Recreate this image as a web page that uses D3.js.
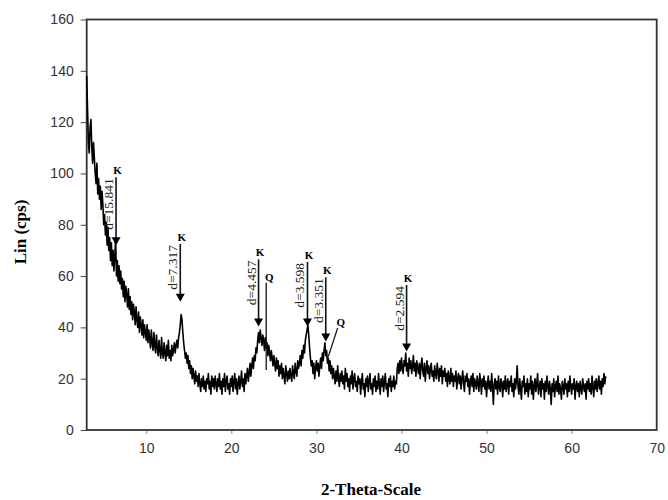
<!DOCTYPE html>
<html>
<head>
<meta charset="utf-8">
<script src="https://cdn.jsdelivr.net/npm/d3@7"></script>
<style>
  body { margin: 0; background: #fff; }
  svg { display: block; }
</style>
</head>
<body>
<div id="chart"></div>
<script>
// diffractogram, read every 0.1 deg 2-theta from 3.0 to 64.0 (one row = 1 deg)
var thetaStart = 3.0, thetaStep = 0.1;
var intensity = [
  138, 125, 112, 108, 118, 121, 110, 104, 112, 106,
  100, 96, 104, 92, 98, 90, 95, 86, 93, 88,
  80, 84, 76, 81, 72, 79, 70, 75, 66, 73,
  64, 70, 62, 68, 74, 60, 66, 58, 64, 57,
  62, 55, 59, 52, 58, 50, 56, 53, 48, 55,
  47, 52, 45, 50, 43, 49, 46, 41, 48, 43,
  40, 46, 38, 44, 41, 37, 43, 36, 41, 38,
  35, 41, 34, 39, 36, 32, 39, 34, 31, 38,
  33, 30, 37, 32, 29, 35, 31, 28, 36, 30,
  28, 34, 30, 27, 33, 29, 35, 28, 31, 27,
  33, 29, 31, 34, 30, 33, 35, 32, 36, 38,
  41, 45, 43, 38, 34, 31, 28, 30, 26, 29,
  24, 27, 22, 25, 20, 24, 21, 18, 23, 19,
  21, 17, 22, 18, 15, 20, 17, 21, 16, 19,
  15, 20, 18, 22, 16, 19, 14, 21, 17, 20,
  16, 21, 18, 15, 20, 17, 22, 16, 19, 14,
  20, 17, 22, 15, 19, 21, 16, 18, 14, 20,
  17, 21, 15, 19, 22, 16, 20, 14, 18, 21,
  16, 19, 23, 17, 20, 15, 22, 18, 21, 24,
  19, 22, 26, 21, 25, 28, 24, 29, 27, 32,
  30, 35, 38, 34, 39, 36, 33, 37, 35, 31,
  36, 32, 34, 29, 33, 30, 27, 31, 28, 25,
  29, 26, 23, 28, 24, 27, 21, 25, 22, 26,
  20, 24, 21, 18, 25, 22, 19, 23, 20, 24,
  21, 19, 25, 22, 20, 26, 23, 21, 27, 24,
  26, 29, 25, 31, 28, 33, 30, 35, 37, 39,
  41, 37, 32, 28, 25, 27, 22, 26, 20, 24,
  27, 23, 26, 21, 25, 28, 24, 30, 27, 31,
  34, 29, 31, 26, 28, 23, 27, 22, 25, 20,
  24, 21, 18, 23, 19, 25, 20, 17, 22, 19,
  23, 18, 21, 16, 24, 19, 22, 17, 20, 15,
  21, 18, 23, 16, 20, 22, 17, 19, 15, 21,
  18, 20, 14, 19, 22, 16, 18, 13, 20, 17,
  21, 15, 19, 22, 16, 18, 14, 20, 17, 21,
  15, 19, 16, 22, 18, 14, 20, 17, 21, 15,
  19, 22, 16, 18, 13, 20, 17, 21, 15, 19,
  17, 21, 16, 19, 18, 24, 26, 22, 27, 23,
  28, 24, 22, 27, 25, 30, 23, 26, 21, 28,
  24, 27, 22, 25, 29, 23, 26, 21, 27, 24,
  22, 26, 20, 25, 28, 23, 21, 26, 19, 24,
  27, 22, 25, 20, 24, 26, 21, 23, 19, 25,
  22, 20, 26, 23, 19, 24, 21, 25, 18, 23,
  21, 24, 19, 22, 17, 23, 20, 18, 24, 19,
  22, 17, 21, 19, 23, 16, 20, 22, 18, 21,
  16, 20, 23, 18, 15, 21, 19, 22, 17, 20,
  14, 19, 21, 17, 22, 15, 20, 18, 16, 21,
  18, 15, 22, 19, 14, 20, 17, 21, 16, 19,
  13, 18, 21, 16, 19, 15, 22, 17, 10, 18,
  20, 16, 19, 14, 21, 17, 15, 20, 18, 13,
  19, 16, 21, 15, 18, 20, 14, 19, 17, 21,
  15, 18, 13, 20, 16, 19, 25, 17, 14, 20,
  16, 12, 19, 17, 21, 14, 18, 15, 20, 13,
  18, 16, 21, 14, 19, 12, 17, 20, 15, 18,
  22, 14, 17, 19, 13, 20, 16, 18, 12, 19,
  15, 21, 17, 14, 19, 16, 10, 18, 15, 20,
  13, 17, 19, 15, 21, 14, 18, 16, 12, 19,
  17, 14, 20, 16, 18, 13, 19, 15, 21, 17,
  14, 18, 16, 20, 12, 17, 19, 15, 18, 13,
  19, 16, 14, 20, 17, 15, 18, 12, 19, 16,
  20, 15, 18, 14, 21, 17, 13, 19, 16, 20,
  15, 18, 21, 16, 19, 14, 20, 17, 22, 18,
  21
];

var xTicks = [10, 20, 30, 40, 50, 60, 70];
var yTicks = [0, 20, 40, 60, 80, 100, 120, 140, 160];

// kaolinite reflections (arrow from top value down to tip value)
var kTheta = [6.45, 14.0, 23.2, 28.95, 31.1, 40.6];
var kTop = [98.5, 72.5, 66.5, 65.5, 59.5, 56.5];
var kTip = [72, 50, 40.3, 40.3, 34.5, 30.6];
var kLabel = ["d=15.841", "d=7.317", "d=4.457", "d=3.598", "d=3.351", "d=2.594"];

// quartz markers (plain lines)
var qThetaTop = [24.1, 32.5];
var qTop = [57.4, 39.8];
var qThetaBot = [24.1, 31.4];
var qBot = [23.4, 28.6];

var margin = { top: 19.5, right: 11.3, bottom: 70, left: 86.7 },
    width = 668 - margin.left - margin.right,
    height = 500 - margin.top - margin.bottom;

var svg = d3.select("#chart")
    .append("svg")
    .attr("width", 668)
    .attr("height", 500);

var graph = svg.append("g")
    .attr("transform", "translate(" + margin.left + "," + margin.top + ")");

var x = d3.scaleLinear().domain([3, 70]).range([0, width]);
var y = d3.scaleLinear().domain([0, 160]).range([height, 0]);

// x axis
var xAxis = graph.append("g")
    .attr("transform", "translate(0," + height + ")")
    .call(d3.axisBottom(x).tickValues(xTicks).tickSize(4).tickPadding(9).tickFormat(d3.format("d")));
xAxis.select(".domain").remove();
xAxis.selectAll(".tick line").attr("stroke", "#888").attr("stroke-width", 1);
xAxis.selectAll(".tick").filter(function (d) { return d === 70; }).select("line").remove();
xAxis.selectAll("text")
    .style("font-family", "'Liberation Sans', Arial, sans-serif")
    .style("font-size", "14px")
    .attr("fill", "#333");

// y axis
var yAxis = graph.append("g")
    .call(d3.axisLeft(y).tickValues(yTicks).tickSize(6).tickPadding(7));
yAxis.select(".domain").remove();
yAxis.selectAll(".tick line").attr("stroke", "#444").attr("stroke-width", 1);
yAxis.selectAll("text")
    .style("font-family", "'Liberation Sans', Arial, sans-serif")
    .style("font-size", "14px")
    .attr("fill", "#333");

// plot frame
graph.append("rect")
    .attr("x", 0)
    .attr("y", 0)
    .attr("width", width)
    .attr("height", height)
    .attr("fill", "none")
    .attr("stroke", "#333")
    .attr("stroke-width", 1.8);

// pattern
var pts = intensity.map(function (v, i) { return [thetaStart + i * thetaStep, v]; });
var line = d3.line()
    .x(function (d) { return x(d[0]); })
    .y(function (d) { return y(d[1]); });
graph.append("path")
    .datum(pts)
    .attr("d", line)
    .attr("fill", "none")
    .attr("stroke", "#000")
    .attr("stroke-width", 1.6)
    .attr("stroke-linejoin", "round");

// K arrows
kTheta.forEach(function (t, i) {
    var px = x(t), top = y(kTop[i]), tip = y(kTip[i]);
    graph.append("line")
        .attr("x1", px).attr("x2", px)
        .attr("y1", top).attr("y2", tip - 6)
        .attr("stroke", "#111").attr("stroke-width", 1.6);
    graph.append("path")
        .attr("d", "M" + (px - 4.5) + "," + (tip - 8) + "L" + (px + 4.5) + "," + (tip - 8) + "L" + px + "," + tip + "Z")
        .attr("fill", "#000");
    graph.append("text")
        .attr("x", px + 1.5)
        .attr("y", top - 3)
        .attr("text-anchor", "middle")
        .style("font-family", "'Liberation Serif', 'Times New Roman', serif")
        .style("font-size", "11px")
        .style("font-weight", "bold")
        .text("K");
    graph.append("text")
        .attr("transform", "translate(" + (px - 3) + "," + (top + 1) + ") rotate(-90)")
        .attr("text-anchor", "end")
        .style("font-family", "'Liberation Serif', 'Times New Roman', serif")
        .style("font-size", "13.5px")
        .attr("fill", "#222")
        .text(kLabel[i]);
});

// Q markers
qThetaTop.forEach(function (t, i) {
    var x1 = x(t), y1 = y(qTop[i]), x2 = x(qThetaBot[i]), y2 = y(qBot[i]);
    graph.append("line")
        .attr("x1", x1).attr("y1", y1)
        .attr("x2", x2).attr("y2", y2)
        .attr("stroke", "#111").attr("stroke-width", 1.3);
    graph.append("text")
        .attr("x", x1 + 3)
        .attr("y", y1 - 2)
        .attr("text-anchor", "middle")
        .style("font-family", "'Liberation Serif', 'Times New Roman', serif")
        .style("font-size", "11px")
        .style("font-weight", "bold")
        .text("Q");
});

// axis titles
svg.append("text")
    .attr("x", 371)
    .attr("y", 495)
    .attr("text-anchor", "middle")
    .style("font-family", "'Liberation Serif', 'Times New Roman', serif")
    .style("font-size", "17px")
    .style("font-weight", "bold")
    .text("2-Theta-Scale");

svg.append("text")
    .attr("transform", "translate(26,232) rotate(-90)")
    .attr("text-anchor", "middle")
    .style("font-family", "'Liberation Serif', 'Times New Roman', serif")
    .style("font-size", "17px")
    .style("font-weight", "bold")
    .text("Lin (cps)");
</script>
</body>
</html>
